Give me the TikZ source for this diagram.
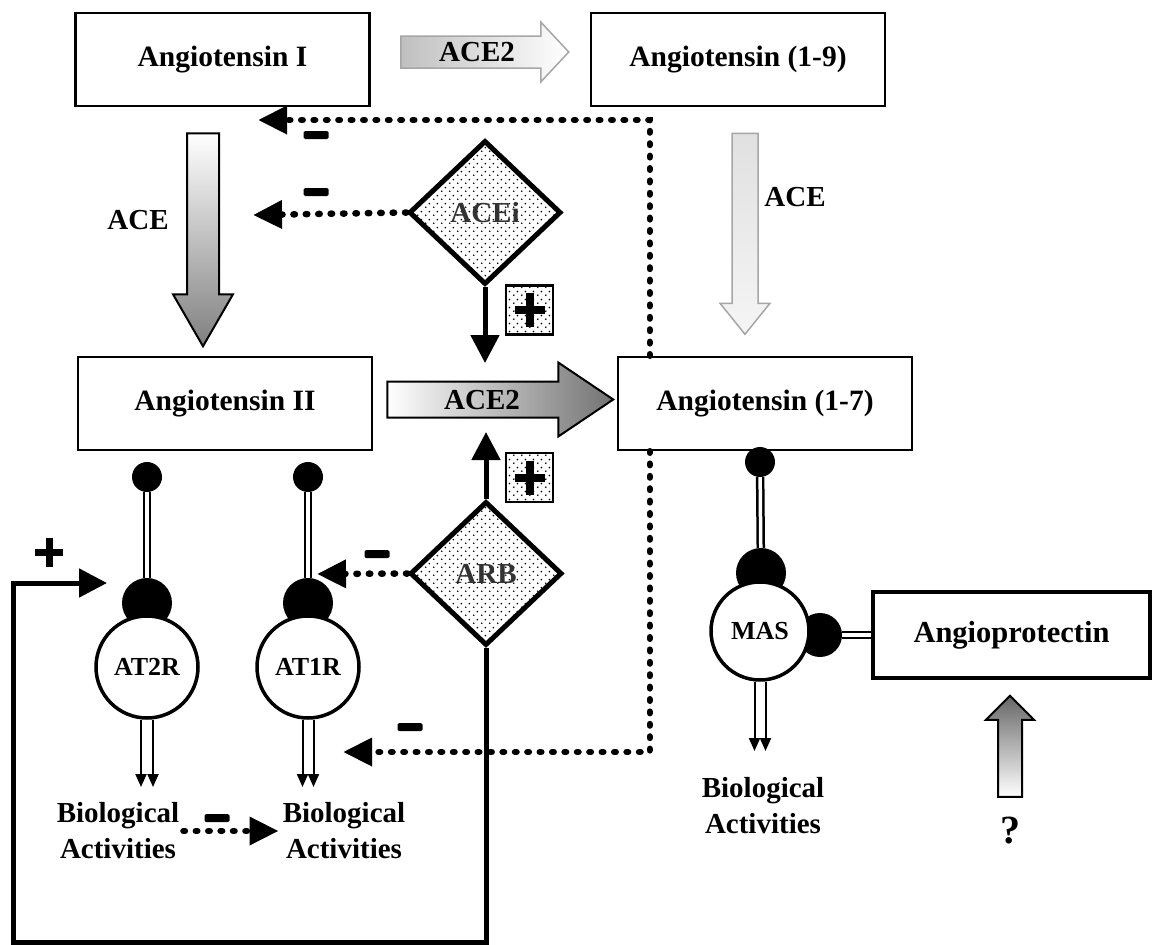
\documentclass[tikz,border=0pt]{standalone}
\usepackage{fontspec}
\setmainfont{Liberation Serif}
\usetikzlibrary{
    arrows.meta,
    backgrounds,
    calc,
    patterns,
    shapes.geometric,
}

% dotted fill of the drug diamonds and the plus boxes
\pgfdeclarepatternformonly{stipple}{\pgfpointorigin}{\pgfqpoint{8pt}{8pt}}{\pgfqpoint{8pt}{8pt}}{%
    \pgfpathcircle{\pgfqpoint{2pt}{2pt}}{1pt}%
    \pgfpathcircle{\pgfqpoint{6pt}{6pt}}{1pt}%
    \pgfusepath{fill}%
}

\begin{document}
\begin{tikzpicture}[
        x=1pt, y=-1pt,
        every node/.style={font=\bfseries\fontsize{29}{34}\selectfont},
        protein/.style={rectangle, draw=black, line width=2.5pt, minimum width=294pt, minimum height=93pt, inner sep=0pt, font=\bfseries\fontsize{29.5}{34}\selectfont},
        drug/.style={diamond, draw=black, line width=5pt, pattern=stipple, minimum width=152pt, minimum height=144pt, inner sep=0pt, text=black!80},
        receptor/.style={circle, draw=black, fill=white, line width=3.5pt, minimum size=102pt, inner sep=0pt, font=\bfseries\fontsize{26}{30}\selectfont},
        ligand/.style={circle, fill=black, minimum size=30pt, inner sep=0pt},
        site/.style={circle, fill=black, minimum size=50pt, inner sep=0pt},
        stalk/.style={line width=2.5pt, double=white, double distance=3.5pt},
        inhib/.style={line width=6.5pt, line cap=round, dash pattern=on 1.5pt off 10.9pt, -{Triangle[length=29pt,width=27pt]}},
        promote/.style={line width=5pt, -{Triangle[length=28pt,width=28pt]}},
        output/.style={line width=2pt, -{Triangle[length=13pt,width=11pt]}},
        minussign/.style={rectangle, fill=black, rounded corners=1.5pt, minimum width=25pt, minimum height=8pt, inner sep=0pt},
        plusbox/.style={rectangle, draw=black, line width=2.5pt, pattern=stipple, minimum width=47pt, minimum height=49pt, inner sep=0pt,
            path picture={
                \draw[line width=8pt] ([xshift=-15pt]path picture bounding box.center) -- ([xshift=15pt]path picture bounding box.center);
                \draw[line width=8pt] ([yshift=-17pt]path picture bounding box.center) -- ([yshift=17pt]path picture bounding box.center);
            }},
        plussign/.style={minimum width=28pt, minimum height=29pt, inner sep=0pt,
            path picture={
                \draw[line width=7pt] (path picture bounding box.west) -- (path picture bounding box.east);
                \draw[line width=7pt] (path picture bounding box.north) -- (path picture bounding box.south);
            }},
        bio/.style={align=center, inner sep=4pt, font=\bfseries\fontsize{29}{36}\selectfont},
        ]
        \useasboundingbox (0,0) rectangle (1152,945);

        % peptides
        \node[protein] (ang1) at (222.5,59.5) {Angiotensin I};
        \node[protein] (ang9) at (738,59.5) {Angiotensin (1-9)};
        \node[protein] (ang2) at (225,403.5) {Angiotensin II};
        \node[protein] (ang7) at (765,403.5) {Angiotensin (1-7)};
        \node[protein, line width=3.5pt, minimum width=277pt, minimum height=86pt, font=\bfseries\fontsize{30.5}{34}\selectfont] (angpro) at (1011.5,635) {Angioprotectin};

        % enzyme arrows
        \shadedraw[draw=black!35, line width=1.5pt, left color=black!25, right color=white]
            ($(ang1.east)+(30,-23.5)$) -- ++(140,0) -- ++(0,-14) -- ++(28,30) -- ++(-28,30) -- ++(0,-14) -- ++(-140,0) -- cycle;
        \node (ace2a) at (477,52) {ACE2};
        \shadedraw[draw=black, line width=2pt, top color=white, bottom color=black!50]
            ($(ang1.south)+(-35.5,26)$) -- ++(32,0) -- ++(0,161) -- ++(14,0) -- ++(-30,52) -- ++(-30,-52) -- ++(14,0) -- cycle;
        \node (acel) at (138,220) {ACE};
        \shadedraw[draw=black!35, line width=1.5pt, top color=black!12, bottom color=black!4]
            ($(ang9.south)+(-6,26)$) -- ++(26,0) -- ++(0,170) -- ++(12,0) -- ++(-25,31) -- ++(-25,-31) -- ++(12,0) -- cycle;
        \node (acer) at (795,197) {ACE};
        \shadedraw[draw=black, line width=2pt, left color=white, right color=black!55]
            ($(ang2.east)+(14,-22)$) -- ++(171,0) -- ++(0,-19) -- ++(55,37) -- ++(-55,37) -- ++(0,-19) -- ++(-171,0) -- cycle;
        \node (ace2b) at (482,400) {ACE2};
        \shadedraw[draw=black, line width=2pt, top color=black!60, bottom color=white]
            ($(angpro.south)+(-13.5,117)$) -- ++(24,0) -- ++(0,-77) -- ++(12,0) -- ++(-24,-24) -- ++(-24,24) -- ++(12,0) -- cycle;
        \node[font=\bfseries\fontsize{40}{44}\selectfont] (qmark) at (1010,831) {?};

        % drugs
        \node[drug] (acei) at (485,212.5) {ACEi};
        \node[drug] (arb) at (486,573.5) {ARB};
        \node[plusbox] (pb1) at (529.5,310) {};
        \node[plusbox] (pb2) at (529.5,477.5) {};

        % receptors
        \node[ligand] (at2rlig) at (147,477) {};
        \node[ligand] (at1rlig) at (308,477) {};
        \node[ligand] (maslig) at (760,462) {};
        \node[site] (at2rsite) at (147,603) {};
        \node[site] (at1rsite) at (308,603) {};
        \node[site] (massite) at (761,573) {};
        \node[site, minimum size=44pt] (masside) at (820,635) {};
        \node[receptor] (at2r) at (147,667) {AT2R};
        \node[receptor] (at1r) at (308,667) {AT1R};
        \node[receptor, minimum size=98pt] (mas) at (760,631) {MAS};

        \node[bio] (bio2) at (118,831) {Biological\\Activities};
        \node[bio] (bio1) at (344,831) {Biological\\Activities};
        \node[bio] (bio3) at (763,806) {Biological\\Activities};

        \coordinate (at2rout) at (147,787);
        \coordinate (at1rout) at (308,787);
        \coordinate (masout) at (760,751);
        \draw[output] ([xshift=-6pt]at2r.south) -- ([xshift=-6pt]at2rout);
        \draw[output] ([xshift=6pt]at2r.south) -- ([xshift=6pt]at2rout);
        \draw[output] ([xshift=-5.5pt]at1r.south) -- ([xshift=-5.5pt]at1rout);
        \draw[output] ([xshift=5.5pt]at1r.south) -- ([xshift=5.5pt]at1rout);
        \draw[output] ([xshift=-5.5pt]mas.south) -- ([xshift=-5.5pt]masout);
        \draw[output] ([xshift=5.5pt]mas.south) -- ([xshift=5.5pt]masout);

        % inhibitions
        \coordinate (inhang1) at (258,120);
        \coordinate (inhace) at (253,215);
        \coordinate (inhstalk) at (317,574);
        \coordinate (inhat1r) at (343,752);
        \draw[inhib] ($(ang7.north west)+(33,0)$) |- (inhang1);
        \draw[inhib] ($(ang7.south west)+(33,0)$) |- (inhat1r);
        \draw[inhib] (acei.west) -- (inhace);
        \draw[inhib] (arb.west) -- (inhstalk);
        \draw[inhib] (bio2.east) -- (bio1.west);
        \node[minussign] (m1) at (316,135) {};
        \node[minussign] (m2) at (316,192) {};
        \node[minussign] (m3) at (377,554) {};
        \node[minussign] (m4) at (410,727) {};
        \node[minussign] (m5) at (217,818) {};

        % stimulations
        \coordinate (aceitip) at (485,363);
        \coordinate (arbtip) at (486,432);
        \coordinate (loopcorner) at (13,942);
        \coordinate (at2rtip) at (107,583);
        \draw[promote] (acei.south) -- (aceitip);
        \draw[promote] (arb.north) -- (arbtip);
        \draw[promote] (arb.south) |- (loopcorner) |- (at2rtip);
        \node[plussign] (pl) at (49,552) {};

        \begin{scope}[on background layer]
            \fill[white] (0,0) rectangle (1152,945);
            \draw[stalk] (at2rlig) -- (at2rsite);
            \draw[stalk] (at1rlig) -- (at1rsite);
            \draw[stalk] (maslig) -- (massite);
            \draw[stalk] (masside) -- (angpro.west);
        \end{scope}
    \end{tikzpicture}
\end{document}
